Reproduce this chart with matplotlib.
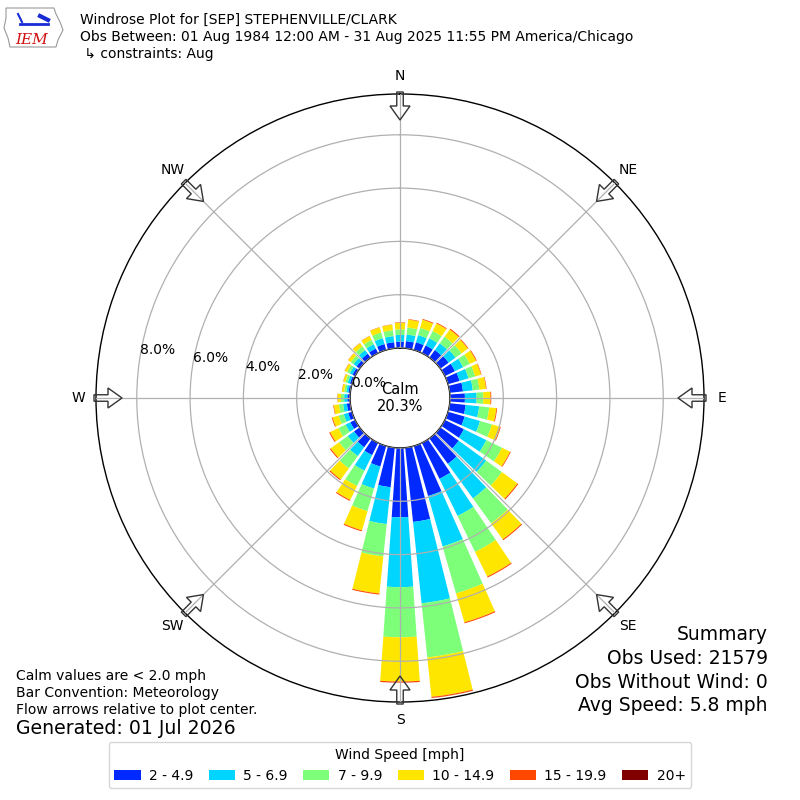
import numpy as np
import matplotlib
matplotlib.use("Agg")
import matplotlib.pyplot as plt
from matplotlib.patches import FancyArrow, Patch, Polygon

# wind direction bins (deg, meteorological)
directions = np.arange(0, 360, 10)
speed_labels = ["2 - 4.9", "5 - 6.9", "7 - 9.9", "10 - 14.9", "15 - 19.9", "20+"]

# percent of observations in each direction for each speed bin
pct_2_5 = [0.24, 0.27, 0.30, 0.32, 0.35, 0.38, 0.42, 0.45, 0.50, 0.56, 0.60, 0.65,
           0.79, 0.85, 1.18, 1.50, 1.95, 2.80, 2.60, 1.49, 0.80, 0.51, 0.41, 0.26,
           0.20, 0.15, 0.13, 0.10, 0.07, 0.08, 0.11, 0.14, 0.18, 0.19, 0.23, 0.23]
pct_5_7 = [0.25, 0.25, 0.28, 0.30, 0.31, 0.32, 0.34, 0.35, 0.37, 0.44, 0.51, 0.60,
           0.94, 1.27, 1.60, 1.55, 1.97, 3.07, 2.62, 1.39, 0.86, 0.65, 0.41, 0.29,
           0.20, 0.17, 0.14, 0.12, 0.08, 0.09, 0.11, 0.14, 0.17, 0.18, 0.23, 0.23]
pct_7_10 = [0.21, 0.26, 0.28, 0.30, 0.31, 0.28, 0.28, 0.26, 0.25, 0.25, 0.38, 0.46,
            0.65, 0.73, 1.16, 1.50, 1.83, 2.04, 1.88, 1.22, 0.88, 0.64, 0.57, 0.40,
            0.30, 0.20, 0.16, 0.12, 0.08, 0.09, 0.11, 0.13, 0.17, 0.18, 0.22, 0.22]
pct_10_15 = [0.24, 0.30, 0.32, 0.32, 0.33, 0.29, 0.26, 0.23, 0.25, 0.27, 0.27, 0.32,
             0.34, 0.72, 0.74, 1.03, 1.13, 1.49, 1.66, 1.40, 0.75, 0.58, 0.51, 0.39,
             0.34, 0.24, 0.19, 0.13, 0.08, 0.08, 0.10, 0.12, 0.15, 0.16, 0.20, 0.21]
pct_15_20 = [0.02, 0.02, 0.03, 0.03, 0.04, 0.03, 0.03, 0.02, 0.02, 0.03, 0.03, 0.03,
             0.03, 0.04, 0.04, 0.04, 0.04, 0.04, 0.04, 0.04, 0.04, 0.04, 0.04, 0.04,
             0.04, 0.03, 0.02, 0.01, 0.01, 0.01, 0.01, 0.01, 0.01, 0.01, 0.01, 0.01]
pct_20_up = [0.0, 0.0, 0.0, 0.0, 0.0, 0.0, 0.0, 0.0, 0.0, 0.0, 0.0, 0.0,
             0.0, 0.0, 0.0, 0.0, 0.0, 0.005, 0.005, 0.0, 0.0, 0.0, 0.0, 0.0,
             0.0, 0.0, 0.0, 0.0, 0.0, 0.0, 0.0, 0.0, 0.0, 0.0, 0.0, 0.0]
calm_pct = 20.3
r_ticks = [0, 2, 4, 6, 8]
compass = ["N", "NE", "E", "SE", "S", "SW", "W", "NW"]

bins = [pct_2_5, pct_5_7, pct_7_10, pct_10_15, pct_15_20, pct_20_up]
colors = plt.get_cmap("jet")(np.linspace(0, 1, 7)[1:])

fig = plt.figure(figsize=(8, 8), dpi=100)
ax = fig.add_axes([0.12, 0.1225, 0.76, 0.76], projection="polar")
ax.set_theta_zero_location("N")
ax.set_theta_direction(-1)

theta = np.radians(directions)
width = np.radians(8)
bottom = np.zeros(len(directions))
for vals, c, lab in zip(bins, colors, speed_labels):
    vals = np.array(vals)
    ax.bar(theta, vals, width=width, bottom=bottom, color=c, linewidth=0,
           label=lab, zorder=2)
    bottom = bottom + vals

ax.set_rorigin(-1.875)
ax.set_ylim(0, 9.53)
ax.set_yticks(r_ticks)
ax.set_yticklabels(["%.1f%%" % t for t in r_ticks], fontsize=10)
ax.set_rlabel_position(279)
ax.set_xticks(np.radians(np.arange(0, 360, 45)))
ax.set_xticklabels([])
ax.grid(True, color="#b0b0b0", linewidth=0.9, zorder=3)
ax.set_axisbelow(False)
for sp in ax.spines.values():
    sp.set_color("black")
    sp.set_linewidth(1.0)

ax.text(0, -1.875, "Calm\n%.1f%%" % calm_pct, ha="center", va="center",
        fontsize=10.5, zorder=5)

# overlay in pixel coords for arrows, compass labels and the logo
ov = fig.add_axes([0, 0, 1, 1], facecolor="none")
ov.set_xlim(0, 800)
ov.set_ylim(800, 0)
ov.axis("off")
cx, cy = 400, 398
for i, name in enumerate(compass):
    a = np.radians(i * 45)
    ux, uy = np.sin(a), -np.cos(a)
    x0, y0 = cx + 306 * ux, cy + 306 * uy
    ov.add_patch(FancyArrow(x0, y0, -28 * ux, -28 * uy, width=6.5,
                            head_width=20, head_length=14,
                            length_includes_head=True, fill=False,
                            edgecolor="#333333", linewidth=1.0))
    ov.text(cx + 322 * ux, cy + 322 * uy, name, ha="center", va="center",
            fontsize=10)

# IEM logo, roughly
iowa = [(6, 8), (54, 8), (56, 14), (60, 22), (63, 30), (58, 40), (56, 47), (10, 47),
        (8, 38), (4, 28), (6, 18)]
ov.add_patch(Polygon(iowa, closed=True, fill=False, edgecolor="#999999", lw=0.8))
ov.plot([20, 48], [24, 24], color="#1a2bd6", lw=2)
ov.plot([18, 22], [14, 22], color="#1a2bd6", lw=1.5)
ov.plot([40, 48], [16, 20], color="#1a2bd6", lw=3)
ov.text(32, 40, "IEM", color="#d01010", fontsize=11, family="DejaVu Serif",
        style="italic", ha="center", va="center")

# header
fig.text(0.1, 1 - 20 / 800, "Windrose Plot for [SEP] STEPHENVILLE/CLARK",
         fontsize=10, va="center")
fig.text(0.1, 1 - 37 / 800,
         "Obs Between: 01 Aug 1984 12:00 AM - 31 Aug 2025 11:55 PM America/Chicago",
         fontsize=10, va="center")
fig.text(0.1, 1 - 54 / 800, " \u21b3 constraints: Aug", fontsize=10, va="center")

# footer notes
fig.text(0.02, 1 - 676 / 800, "Calm values are < 2.0 mph", fontsize=10, va="center")
fig.text(0.02, 1 - 693 / 800, "Bar Convention: Meteorology", fontsize=10, va="center")
fig.text(0.02, 1 - 710 / 800, "Flow arrows relative to plot center.", fontsize=10,
         va="center")
fig.text(0.02, 1 - 729 / 800, "Generated: 01 Jul 2026", fontsize=13.6, va="center")

summary = ["Summary", "Obs Used: 21579", "Obs Without Wind: 0", "Avg Speed: 5.8 mph"]
for k, line in enumerate(summary):
    fig.text(0.96, 1 - (635 + k * 23.5) / 800, line, fontsize=13.5, ha="right",
             va="center")

handles = [Patch(facecolor=c, edgecolor="none") for c in colors]
fig.legend(handles, speed_labels, loc="lower center", bbox_to_anchor=(0.5, 0.006),
           ncol=6, title="Wind Speed [mph]", fontsize=10, title_fontsize=10,
           handlelength=1.9, handletextpad=0.6, columnspacing=1.1)

fig.savefig("out.png", dpi=100)
